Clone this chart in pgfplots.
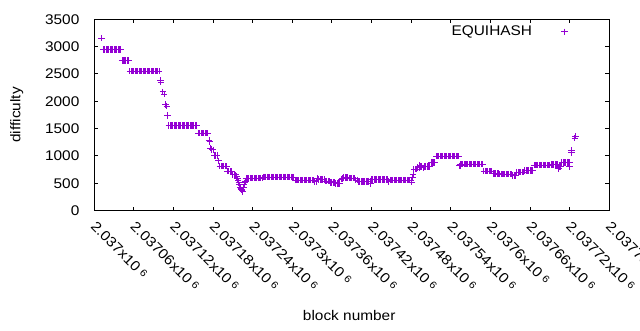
\documentclass[border=0pt]{standalone}
\usepackage{fontspec}
\setmainfont{Liberation Sans}[FakeStretch=1.1]
\usepackage{pgfplots}
\pgfplotsset{compat=1.18}
\definecolor{gpviolet}{HTML}{9400D3}
\newcommand{\tl}[1]{#1x10\hspace{0.25em}\raisebox{0.35ex}{\fontsize{7.5}{8}\selectfont 6}}
\begin{document}
\fontsize{10.5}{12.6}\selectfont
\begin{tikzpicture}
\useasboundingbox (0,0) rectangle (480pt,247.5pt);
\begin{axis}[
  at={(70.725pt,89.625pt)}, anchor=south west,
  scale only axis, width=386.25pt, height=143.4pt,
  xmin=0, xmax=780, ymin=0, ymax=3500,
  xtick={0,60,...,780},
  xticklabels={\tl{2.037},\tl{2.03706},\tl{2.03712},\tl{2.03718},\tl{2.03724},\tl{2.0373},\tl{2.03736},\tl{2.03742},\tl{2.03748},\tl{2.03754},\tl{2.0376},\tl{2.03766},\tl{2.03772},\tl{2.03778}},
  ytick={0,500,...,3500},
  scaled y ticks=false,
  /pgf/number format/1000 sep={},
  /pgf/number format/assume math mode=true,
  tick align=inside, major tick length=3pt,
  axis line style={line width=0.75pt},
  every tick/.style={line width=0.75pt, black},
  x tick label style={xshift=2pt, yshift=-6pt, rotate=-45, anchor=north west, inner sep=1pt},
  y tick label style={xshift=-7.5pt},
  xlabel={block number}, ylabel={difficulty},
  xlabel style={at={(axis description cs:0.495,-0.5466)}, anchor=center},
  ylabel style={at={(axis description cs:-0.1507,0.5)}, anchor=center},
  legend style={draw=none, fill=none, at={(axis description cs:0.804,0.934)}, anchor=center, column sep=20pt},
  legend plot pos=right,
]
% x = block number - 2037000
\addplot[only marks, mark=+, mark size=2.4pt, line width=0.75pt, color=gpviolet] table {
x y
11 3155
14 2950
16 2950
18 2950
20 2950
22 2950
24 2950
26 2950
28 2950
30 2950
32 2950
34 2950
36 2950
38 2950
40 2950
42 2745
44 2745
46 2745
48 2745
50 2745
52 2745
54 2550
56 2550
58 2550
60 2550
62 2550
64 2550
66 2550
68 2550
70 2550
72 2550
74 2550
76 2550
78 2550
80 2550
82 2550
84 2550
86 2550
88 2550
90 2550
92 2550
94 2550
96 2550
98 2550
100 2380
101 2350
104 2170
106 2130
108 1940
110 1910
111 1740
113 1555
115 1555
117 1555
119 1555
121 1555
123 1555
125 1555
127 1555
129 1555
131 1555
133 1555
135 1555
137 1555
139 1555
141 1555
143 1555
145 1555
147 1555
149 1555
151 1555
153 1555
155 1555
158 1415
160 1415
162 1415
164 1415
166 1415
168 1415
170 1415
172 1415
174 1290
175 1260
176 1140
178 1120
180 1110
182 1010
184 1010
186 1010
188 910
190 810
192 810
194 810
196 810
198 810
200 810
202 718
204 718
206 718
208 718
210 660
212 655
214 650
216 620
217 580
218 545
219 510
220 470
221 430
222 405
223 380
224 360
225 345
226 420
227 470
228 505
229 540
230 590
232 590
234 590
236 590
238 590
240 590
242 590
244 590
246 590
248 590
250 590
252 590
254 590
256 612
258 612
260 612
262 612
264 612
266 612
268 612
270 612
272 612
274 612
276 612
278 612
280 612
282 612
284 612
286 612
288 612
290 612
292 612
294 612
296 612
298 612
300 612
302 612
304 553
306 553
308 553
310 553
312 553
314 553
316 553
318 553
320 553
322 553
324 553
326 553
328 553
330 553
332 553
334 528
336 528
338 590
340 571
342 571
344 571
346 571
348 571
350 540
352 540
354 540
356 540
358 516
360 516
362 516
364 516
366 495
368 495
370 495
372 495
374 575
376 585
378 605
380 605
382 605
384 605
386 590
388 590
390 590
392 590
394 590
396 555
398 555
400 528
402 528
404 528
406 528
408 528
410 528
412 528
414 528
416 528
418 528
419 495
420 565
422 565
424 565
426 565
428 565
430 565
432 565
434 565
436 565
438 565
440 565
442 565
444 565
446 530
448 553
450 553
452 553
454 553
456 553
458 553
460 553
462 553
464 553
466 553
468 553
470 553
472 553
474 553
476 553
478 553
480 553
481 520
482 600
483 660
484 755
486 755
488 755
490 784
492 784
493 828
494 802
496 802
498 780
500 802
502 802
504 802
506 802
508 802
510 876
512 876
514 876
516 876
518 993
520 993
522 993
524 993
526 993
528 993
530 993
532 993
534 993
536 993
538 993
540 993
542 993
544 993
546 993
548 993
550 993
552 993
553 820
555 820
554 846
556 846
558 846
560 846
562 846
564 846
566 846
568 846
570 846
572 846
574 846
576 846
578 846
580 846
582 846
584 846
586 846
588 846
590 718
592 718
594 718
596 718
598 718
600 718
602 718
604 681
606 681
608 681
610 681
612 681
614 663
616 663
618 663
620 663
622 663
624 663
626 663
628 663
630 663
632 663
634 638
636 638
638 638
640 700
642 700
644 700
646 700
648 700
650 700
652 730
654 730
656 730
658 730
660 730
662 730
664 730
666 828
668 828
670 828
672 828
674 828
676 828
678 828
680 828
682 828
684 828
686 828
688 828
690 828
692 839
694 839
696 839
698 839
700 839
702 839
703 766
704 802
706 802
708 876
710 876
712 876
714 876
716 876
718 876
720 876
720 802
723 1060
723 1095
728 1323
729 1359
};
\addlegendentry{EQUIHASH}
\end{axis}
\end{tikzpicture}
\end{document}
